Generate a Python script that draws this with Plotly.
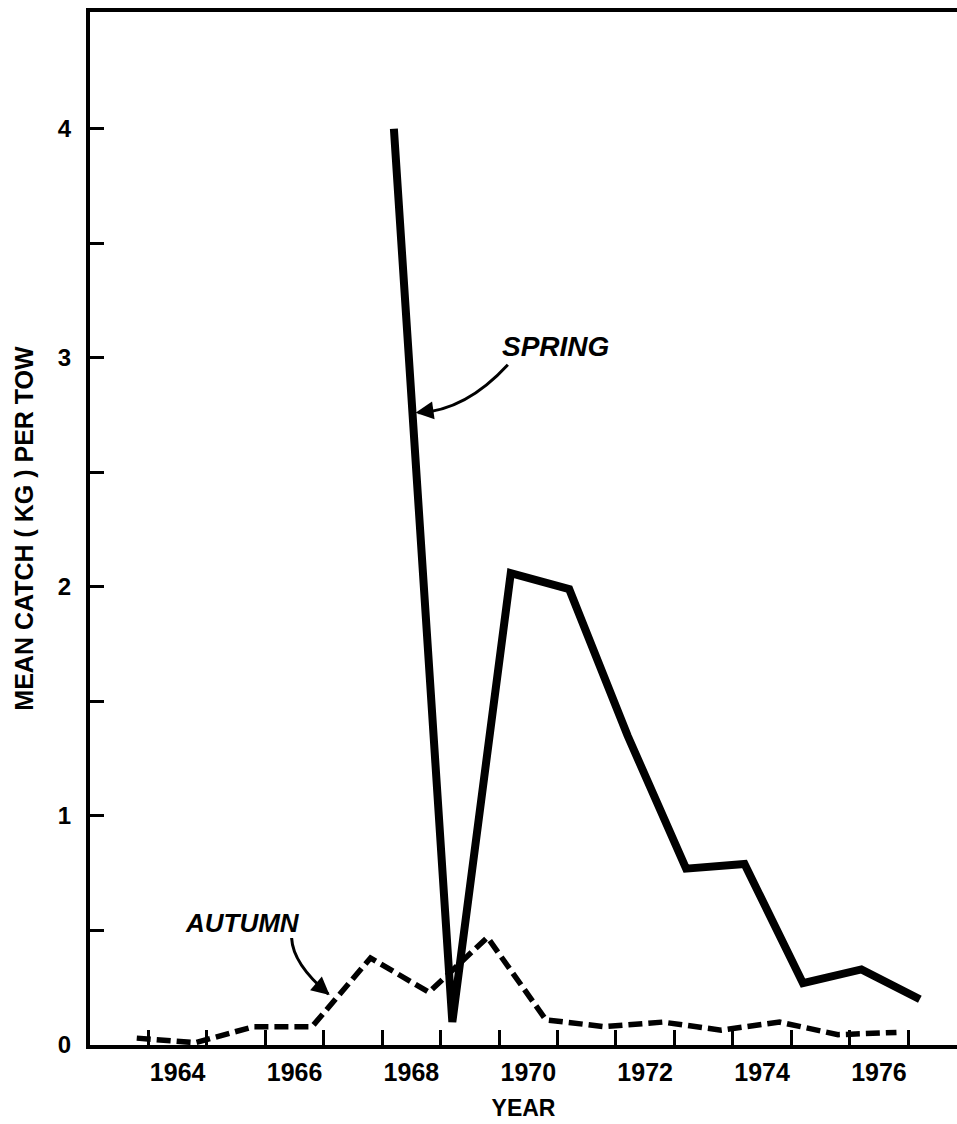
import plotly.graph_objects as go

# ---- data ----
spring_years = [1968, 1969, 1970, 1971, 1972, 1973, 1974, 1975, 1976, 1977]
spring_values = [4.00, 0.10, 2.06, 1.99, 1.35, 0.77, 0.79, 0.27, 0.33, 0.20]

autumn_years = [1963, 1964, 1965, 1966, 1967, 1968, 1969, 1970, 1971, 1972, 1973, 1974, 1975, 1976]
autumn_values = [0.03, 0.01, 0.08, 0.08, 0.38, 0.23, 0.47, 0.11, 0.08, 0.10, 0.065, 0.10, 0.045, 0.055]

label_years = [1964, 1966, 1968, 1970, 1972, 1974, 1976]
boundary_years = list(range(1963, 1978))
y_tick_values = [0, 0.5, 1, 1.5, 2, 2.5, 3, 3.5, 4]
y_tick_text = ["0", "", "1", "", "2", "", "3", "", "4"]

# survey season position within the year
SPRING_OFFSET = 0.2
AUTUMN_OFFSET = 0.8

FONT = "Liberation Sans"

fig = go.Figure()

fig.add_trace(go.Scatter(
    x=[y + SPRING_OFFSET for y in spring_years], y=spring_values,
    mode="lines", line=dict(color="black", width=8), name="Spring",
    showlegend=False,
))
fig.add_trace(go.Scatter(
    x=[y + AUTUMN_OFFSET for y in autumn_years], y=autumn_values,
    mode="lines", line=dict(color="black", width=5.5, dash="14px,6px"), name="Autumn",
    showlegend=False,
))

# curved leader lines
fig.add_shape(type="path", xref="x", yref="y",
              path="M 1970.15,2.97 Q 1969.43,2.77 1968.62,2.76",
              line=dict(color="black", width=3))
fig.add_shape(type="path", xref="x", yref="y",
              path="M 1966.45,0.467 Q 1966.47,0.354 1967.08,0.222",
              line=dict(color="black", width=3))

# arrowheads
fig.add_annotation(x=1968.57, y=2.76, ax=1968.85, ay=2.77, xref="x", yref="y",
                   axref="x", ayref="y", text="", showarrow=True,
                   arrowhead=2, arrowsize=1.2, arrowwidth=3, arrowcolor="black")
fig.add_annotation(x=1967.10, y=0.218, ax=1966.9, ay=0.262, xref="x", yref="y",
                   axref="x", ayref="y", text="", showarrow=True,
                   arrowhead=2, arrowsize=1.2, arrowwidth=3, arrowcolor="black")

fig.add_annotation(x=1970.97, y=3.05, xref="x", yref="y", text="<b><i>SPRING</i></b>",
                   showarrow=False, font=dict(family=FONT, size=28, color="black"))
fig.add_annotation(x=1965.61, y=0.533, xref="x", yref="y", text="<b><i>AUTUMN</i></b>",
                   showarrow=False, font=dict(family=FONT, size=26, color="black"))

x_end = 1964 + (957 - 149) / 58.4

fig.update_layout(
    width=957, height=1124,
    margin=dict(l=90, r=0, t=12, b=79),
    paper_bgcolor="white", plot_bgcolor="white",
    font=dict(family=FONT, color="black"),
    showlegend=False,
)

fig.update_xaxes(
    range=[1963.0, x_end], autorange=False,
    showgrid=False, zeroline=False,
    showline=True, linecolor="black", linewidth=4, mirror=True,
    tickmode="array",
    tickvals=[y + 0.5 for y in label_years],
    ticktext=["<b>%d</b>" % y for y in label_years],
    ticks="inside", ticklen=0,
    tickfont=dict(family=FONT, size=25, color="black"),
    ticklabelstandoff=2,
    minor=dict(tickmode="array", tickvals=boundary_years, ticks="inside",
               ticklen=15, tickwidth=3, tickcolor="black", showgrid=False),
    title=dict(text="<b>YEAR</b>", font=dict(family=FONT, size=23, color="black"), standoff=16),
    automargin=False,
)

fig.update_yaxes(
    range=[0, 4.51], autorange=False,
    showgrid=False, zeroline=False,
    showline=True, linecolor="black", linewidth=4, mirror=False,
    tickmode="array", tickvals=y_tick_values,
    ticktext=["<b>%s</b>" % t if t else "" for t in y_tick_text],
    ticks="inside", ticklen=14, tickwidth=3, tickcolor="black",
    tickfont=dict(family=FONT, size=24, color="black"),
    ticklabelstandoff=10,
    title=dict(text="<b>MEAN CATCH ( KG ) PER TOW</b>",
               font=dict(family=FONT, size=25, color="black"), standoff=18),
    automargin=False,
)

fig.write_html("out.html")
